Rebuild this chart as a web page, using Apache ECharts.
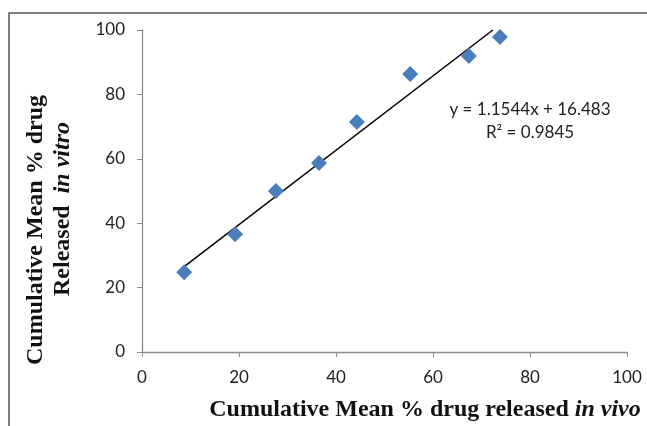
<!DOCTYPE html>
<html>
<head>
<meta charset="utf-8">
<script src="https://cdn.jsdelivr.net/npm/echarts@6/dist/echarts.min.js"></script>
<style>
html, body { margin: 0; padding: 0; background: #fff; }
#main { width: 647px; height: 426px; }
</style>
</head>
<body>
<div id="main"></div>
<script>
// in vivo (x) vs in vitro (y)
var inVivo = [8.7, 19.2, 27.6, 36.5, 44.3, 55.3, 67.4, 73.8];
var inVitro = [24.8, 36.6, 50.0, 58.7, 71.4, 86.3, 91.9, 97.8];
var slope = 1.1544;
var intercept = 16.483;
var rSquared = 0.9845;

var points = [];
for (var i = 0; i < inVivo.length; i++) {
    points.push([inVivo[i], inVitro[i]]);
}

// trendline, from first point to where it leaves the plot at y=100
var xStart = Math.min.apply(null, inVivo);
var xEnd = (100 - intercept) / slope;
var trend = [[xStart, slope * xStart + intercept], [xEnd, 100]];

var myChart = echarts.init(document.getElementById('main'));

var tickFont = 'Lato, "Open Sans", sans-serif';
var titleFont = '"Liberation Serif", "Times New Roman", serif';
var titleRich = {
    b: { fontFamily: titleFont, fontWeight: 'bold', fontSize: 24, fill: '#111' },
    i: { fontFamily: titleFont, fontWeight: 'bold', fontStyle: 'italic', fontSize: 24, fill: '#111' }
};

var option = {
    backgroundColor: '#fff',
    animation: false,
    grid: { left: 142, right: 20, top: 30, bottom: 74, outerBoundsMode: 'none' },
    xAxis: {
        type: 'value',
        min: 0,
        max: 100,
        interval: 20,
        axisLine: { lineStyle: { color: '#8c8c8c', width: 1.3 } },
        axisTick: { show: true, length: 5, lineStyle: { color: '#8c8c8c' } },
        axisLabel: { color: '#222', fontSize: 17, fontFamily: tickFont, margin: 17 },
        splitLine: { show: false }
    },
    yAxis: {
        type: 'value',
        min: 0,
        max: 100,
        interval: 20,
        axisLine: { show: true, lineStyle: { color: '#8c8c8c', width: 1.3 } },
        axisTick: { show: true, length: 5, lineStyle: { color: '#8c8c8c' } },
        axisLabel: { color: '#222', fontSize: 17, fontFamily: tickFont, margin: 17 },
        splitLine: { show: false }
    },
    graphic: [
        {
            type: 'polyline',
            shape: { points: [[9, 426], [9, 13], [647, 13]] },
            style: { stroke: '#555', lineWidth: 1.5, fill: null }
        },
        {
            type: 'text',
            x: 530,
            y: 110,
            style: {
                text: 'y = ' + slope + 'x + ' + intercept,
                align: 'center',
                verticalAlign: 'middle',
                fontSize: 17,
                fontFamily: tickFont,
                fill: '#222'
            }
        },
        {
            type: 'text',
            x: 530,
            y: 133,
            style: {
                text: 'R\u00b2 = ' + rSquared,
                align: 'center',
                verticalAlign: 'middle',
                fontSize: 17,
                fontFamily: tickFont,
                fill: '#222'
            }
        },
        // x axis title
        {
            type: 'text',
            x: 425,
            y: 410,
            style: {
                text: '{b|Cumulative Mean % drug released }{i|in vivo}',
                rich: titleRich,
                align: 'center',
                verticalAlign: 'middle'
            }
        },
        // y axis title, two lines
        {
            type: 'text',
            x: 36,
            y: 230,
            rotation: Math.PI / 2,
            style: {
                text: '{b|Cumulative Mean % drug}',
                rich: titleRich,
                align: 'center',
                verticalAlign: 'middle'
            }
        },
        {
            type: 'text',
            x: 63,
            y: 209,
            rotation: Math.PI / 2,
            style: {
                text: '{b|Released  }{i|in vitro}',
                rich: titleRich,
                align: 'center',
                verticalAlign: 'middle'
            }
        }
    ],
    series: [
        {
            type: 'line',
            data: trend,
            symbol: 'none',
            lineStyle: { color: '#000', width: 1.5 },
            z: 1
        },
        {
            type: 'scatter',
            data: points,
            symbol: 'diamond',
            symbolSize: [16, 16],
            itemStyle: { color: '#4A7EBB', opacity: 1 },
            z: 2
        }
    ]
};

myChart.setOption(option);
</script>
</body>
</html>
